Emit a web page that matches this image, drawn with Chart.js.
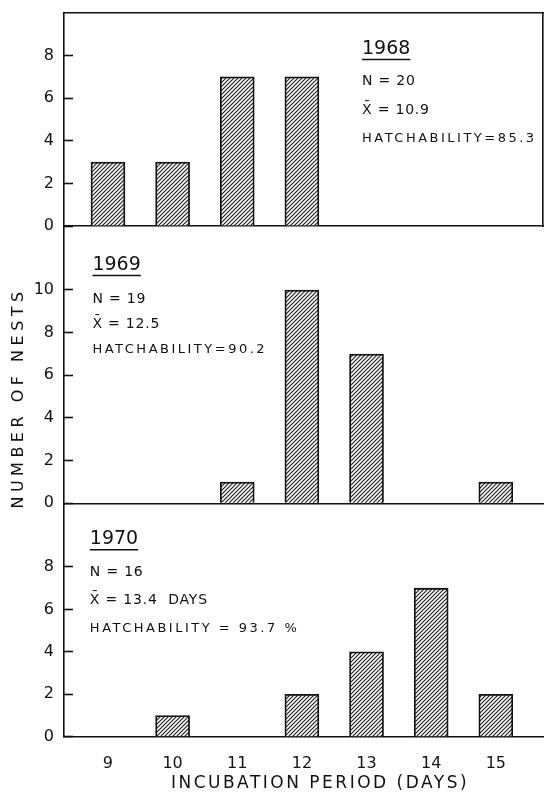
<!DOCTYPE html>
<html>
<head>
<meta charset="utf-8">
<script src="https://cdn.jsdelivr.net/npm/chart.js@4.4.1/dist/chart.umd.min.js"></script>
<style>
  html, body { margin: 0; padding: 0; background: #fff; }
  #wrap { position: relative; width: 546px; height: 794px; overflow: hidden; }
  canvas { position: absolute; left: 0; }
</style>
</head>
<body>
<div id="wrap">
  <canvas id="c1968" width="546" height="240" style="top:0px"></canvas>
  <canvas id="c1969" width="546" height="310" style="top:220px"></canvas>
  <canvas id="c1970" width="546" height="297" style="top:497px"></canvas>
</div>
<script>
const days = [9, 10, 11, 12, 13, 14, 15]
const nests1968 = [3, 3, 7, 7, 0, 0, 0]
const nests1969 = [0, 0, 1, 10, 7, 0, 1]
const nests1970 = [0, 1, 0, 2, 4, 7, 2]
const yTicks1968 = [0, 2, 4, 6, 8]
const yTicks1969 = [0, 2, 4, 6, 8, 10]
const yTicks1970 = [0, 2, 4, 6, 8]
const notes1968 = ['1968', 'N = 20', 'X\u0304 = 10.9', 'HATCHABILITY=85.3']
const notes1969 = ['1969', 'N = 19', 'X\u0304 = 12.5', 'HATCHABILITY=90.2']
const notes1970 = ['1970', 'N = 16', 'X\u0304 = 13.4  DAYS', 'HATCHABILITY = 93.7 %']
const xTitle = 'INCUBATION PERIOD (DAYS)'
const yTitle = 'NUMBER OF NESTS'

const FONT = '"DejaVu Sans", sans-serif'
const INK = '#111'
Chart.defaults.font.family = FONT
Chart.defaults.color = INK

// diagonal hatching used for every bar
const tile = document.createElement('canvas')
tile.width = 4
tile.height = 4
const g = tile.getContext('2d')
g.fillStyle = '#fff'
g.fillRect(0, 0, 4, 4)
g.strokeStyle = '#222'
g.lineWidth = 1.2
g.beginPath()
g.moveTo(-1, 5); g.lineTo(5, -1)
g.moveTo(-1, 1); g.lineTo(1, -1)
g.moveTo(3, 5); g.lineTo(5, 3)
g.stroke()
const hatch = document.createElement('canvas').getContext('2d').createPattern(tile, 'repeat')

// [font size, letter spacing] for the four note lines
const noteStyles = [[19, 0], [14, 0.8], [14, 0.8], [13, 2.5]]

// rotated / spaced text that the axis titles can't place: [text, x, y, size, spacing, angle]
const drawLabel = (ctx, text, px, py, size, gap, angle) => {
  ctx.save()
  ctx.font = `${size}px ${FONT}`
  ctx.letterSpacing = gap + 'px'
  ctx.textAlign = 'center'
  ctx.textBaseline = 'middle'
  ctx.translate(px, py)
  ctx.rotate(angle)
  ctx.fillText(text, 0, 0)
  ctx.restore()
}

const notesPlugin = {
  id: 'panelNotes',
  afterDraw (chart, args, opts) {
    const { ctx, scales } = chart
    const x = scales.x
    const y = scales.y
    ctx.save()
    ctx.fillStyle = INK
    ctx.strokeStyle = INK
    ctx.textBaseline = 'middle'
    ctx.textAlign = 'left'
    const left = x.getPixelForValue(opts.at[0])
    opts.lines.forEach((text, i) => {
      const [size, gap] = noteStyles[i]
      ctx.font = `${size}px ${FONT}`
      ctx.letterSpacing = gap + 'px'
      const top = y.getPixelForValue(opts.at[i + 1])
      ctx.fillText(text, left, top)
      if (i === 0) {
        const w = ctx.measureText(text).width - gap
        ctx.lineWidth = 1.4
        ctx.beginPath()
        ctx.moveTo(left, top + size * 0.55)
        ctx.lineTo(left + w, top + size * 0.55)
        ctx.stroke()
      }
    })
    if (opts.yTitle) {
      drawLabel(ctx, opts.yTitle.text, x.getPixelForValue(opts.yTitle.at[0]),
        y.getPixelForValue(opts.yTitle.at[1]), 16, 4.5, -Math.PI / 2)
    }
    if (opts.xTitle) {
      drawLabel(ctx, opts.xTitle.text, x.getPixelForValue(opts.xTitle.at[0]),
        y.getPixelForValue(opts.xTitle.at[1]), 17, 2.5, 0)
    }
    ctx.restore()
  }
}

const fixBox = (w, h) => (s) => {
  if (w !== null) s.width = w
  if (h !== null) s.height = h
  s.paddingTop = 0
  s.paddingBottom = 0
  s.paddingLeft = 0
  s.paddingRight = 0
}

const frameAxis = (position) => ({
  type: 'linear',
  position,
  grid: { display: false },
  ticks: { display: false },
  border: { color: INK, width: 1.6 },
  afterFit: position === 'top' ? fixBox(null, 0) : fixBox(0, null)
})

const panel = (id, values, yTicks, yMax, notes, at, opts) => {
  const showX = !!opts.showX
  const scales = {
    x: {
      type: 'linear',
      min: 8.32,
      max: 15.73,
      offset: false,
      afterBuildTicks: (s) => { s.ticks = days.map((v) => ({ value: v })) },
      afterFit: fixBox(null, showX ? 57.3 : 0),
      grid: { display: false, offset: false },
      border: { color: INK, width: 1.6 },
      ticks: { display: showX, autoSkip: false, maxRotation: 0, font: { size: 16 }, padding: 10 }
    },
    y: {
      min: 0,
      max: yMax,
      afterBuildTicks: (s) => { s.ticks = yTicks.map((v) => ({ value: v })) },
      afterFit: fixBox(64, null),
      grid: { drawOnChartArea: false, tickLength: -9, tickColor: INK, tickWidth: 1.6 },
      border: { color: INK, width: 1.6 },
      ticks: { font: { size: 16 }, padding: 19 }
    }
  }
  if (opts.frame) {
    scales.x2 = frameAxis('top')
    scales.y2 = frameAxis('right')
  }
  return new Chart(document.getElementById(id), {
    type: 'bar',
    data: {
      datasets: [{
        data: days.map((d, i) => ({ x: d, y: values[i] })),
        backgroundColor: hatch,
        borderColor: INK,
        borderWidth: 1.8,
        barThickness: 34
      }]
    },
    options: {
      responsive: false,
      animation: false,
      layout: { padding: opts.pad },
      plugins: {
        legend: { display: false },
        tooltip: { enabled: false },
        panelNotes: { lines: notes, at, yTitle: opts.yTitle, xTitle: opts.xTitle }
      },
      scales
    },
    plugins: [notesPlugin]
  })
}

panel('c1968', nests1968, yTicks1968, 10, notes1968, [12.93, 8.31, 6.77, 5.45, 4.08],
  { frame: true, pad: { top: 13, right: 3, bottom: 14, left: 0 } })
panel('c1969', nests1969, yTicks1969, 13, notes1969, [8.76, 11.17, 9.56, 8.41, 7.19],
  { pad: { top: 6, right: 3, bottom: 26.7, left: 0 }, yTitle: { text: yTitle, at: [7.62, 4.94] } })
panel('c1970', nests1970, yTicks1970, 11, notes1970, [8.72, 9.30, 7.74, 6.44, 5.08],
  { showX: true, pad: { top: 6.3, right: 3, bottom: 0, left: 0 }, xTitle: { text: xTitle, at: [12.28, -2.23] } })
</script>
</body>
</html>
